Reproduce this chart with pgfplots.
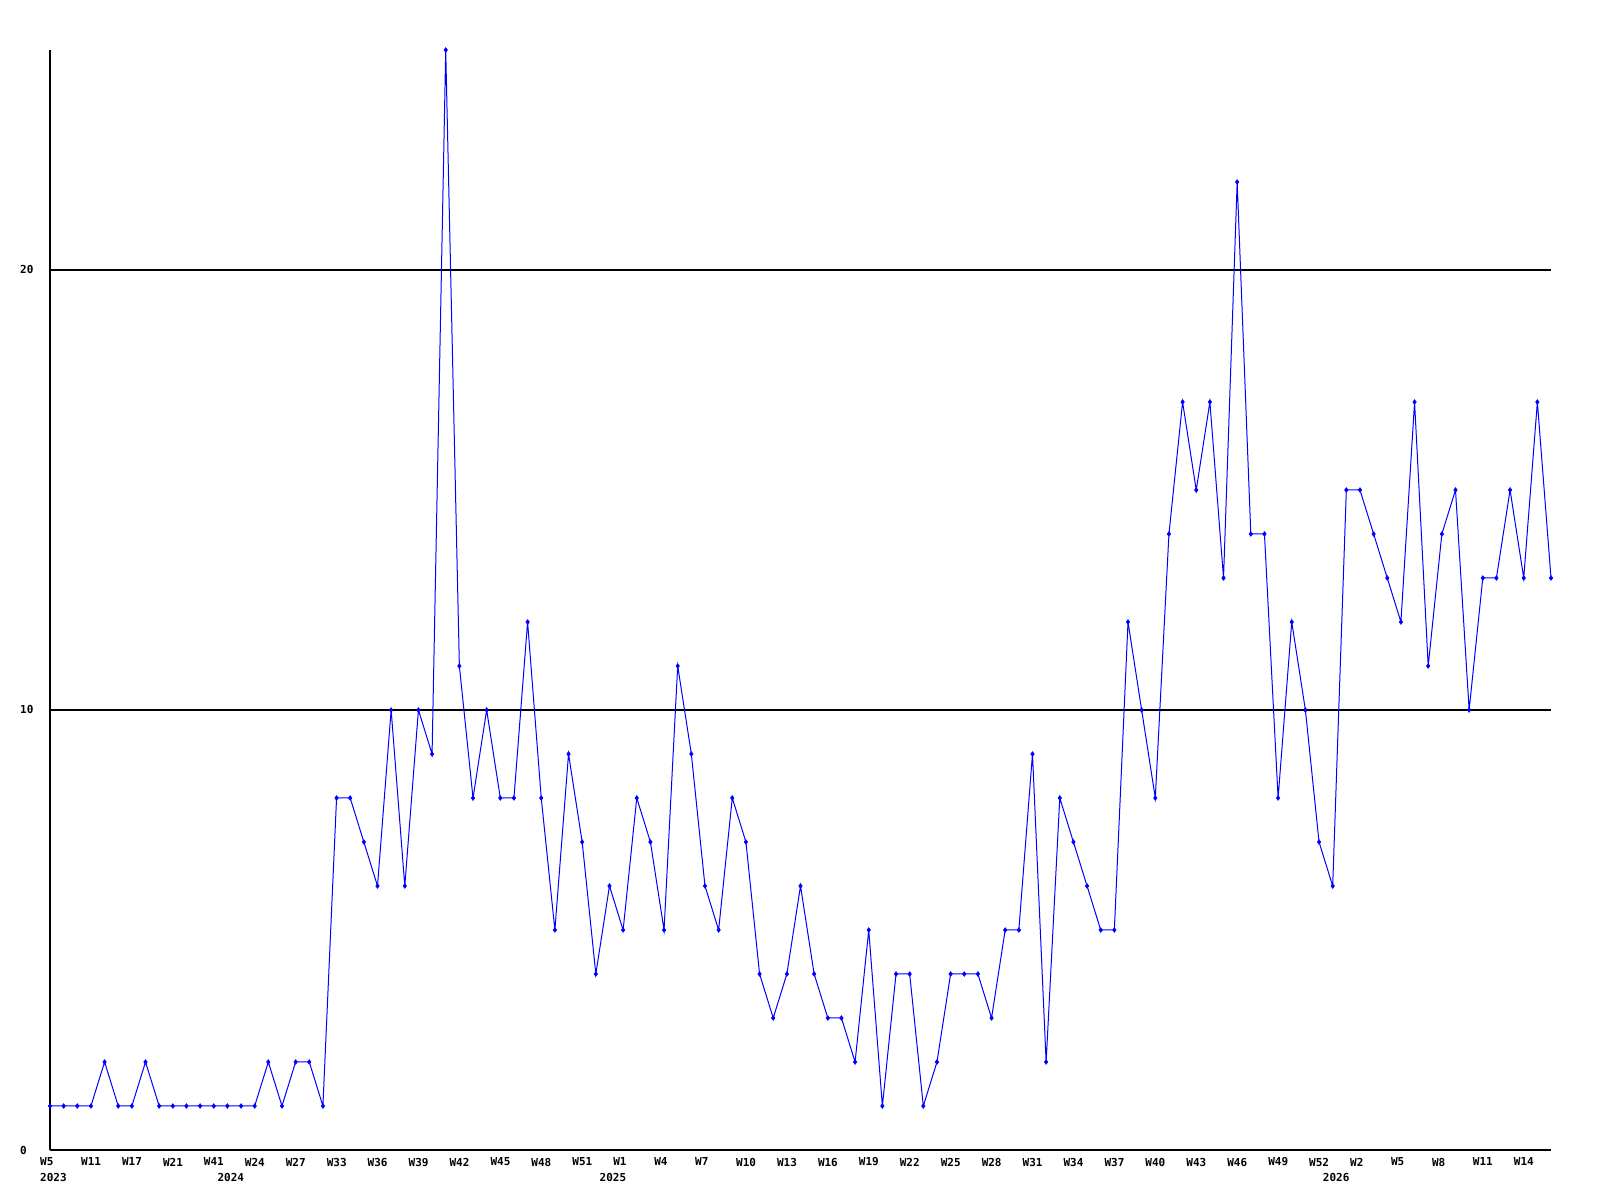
\documentclass[border=0pt]{standalone}
\usepackage{pgfplots}
\pgfplotsset{compat=1.18}
\usepackage{fontspec}
\newfontfamily\lbl{DejaVu Sans Mono}
\begin{document}
\begin{tikzpicture}
\path[use as bounding box] (0,0) rectangle (1600bp,1200bp);
\begin{axis}[
  at={(50bp,50bp)}, anchor=south west,
  x=13.6455bp, y=44bp,
  xmin=0, xmax=110, ymin=0, ymax=25,
  enlargelimits=false,
  clip=false,
  axis x line=bottom, axis y line=left,
  axis line style={-, black, line width=1.2bp},
  major tick length=0pt,
  ytick={0,10,20},
  yticklabels={0,10,20},
  ymajorgrids=true,
  grid style={black, line width=1.2bp},
  xtick={0,3,...,108},
  xticklabels={W5,W11,W17,W21,W41,W24,W27,W33,W36,W39,W42,W45,W48,W51,W1,W4,W7,W10,W13,W16,W19,W22,W25,W28,W31,W34,W37,W40,W43,W46,W49,W52,W2,W5,W8,W11,W14},
  extra x ticks={0,13,41,94},
  extra x tick labels={2023,2024,2025,2026},
  extra x tick style={major tick length=0pt, grid=none,
    xticklabel style={yshift=-15bp}},
  xticklabel style={font=\lbl\bfseries\fontsize{11bp}{12bp}\selectfont, anchor=north west, inner sep=0pt, xshift=-10bp, yshift=-7.7bp},
  yticklabel style={font=\lbl\bfseries\fontsize{11bp}{12bp}\selectfont, anchor=west, inner sep=0pt, xshift=-30bp},
]
\addplot[blue, line width=1bp, mark=diamond*, mark size=2.3bp, mark options={solid, fill=blue, line width=0.6bp}] coordinates {
(0,1)(1,1)(2,1)(3,1)(4,2)(5,1)(6,1)(7,2)(8,1)(9,1)(10,1)(11,1)(12,1)(13,1)(14,1)(15,1)(16,2)(17,1)(18,2)(19,2)(20,1)
(21,8)(22,8)(23,7)(24,6)(25,10)(26,6)(27,10)(28,9)(29,25)(30,11)(31,8)(32,10)(33,8)(34,8)(35,12)(36,8)(37,5)(38,9)(39,7)(40,4)
(41,6)(42,5)(43,8)(44,7)(45,5)(46,11)(47,9)(48,6)(49,5)(50,8)(51,7)(52,4)(53,3)(54,4)(55,6)(56,4)(57,3)(58,3)(59,2)(60,5)
(61,1)(62,4)(63,4)(64,1)(65,2)(66,4)(67,4)(68,4)(69,3)(70,5)(71,5)(72,9)(73,2)(74,8)(75,7)(76,6)(77,5)(78,5)(79,12)(80,10)
(81,8)(82,14)(83,17)(84,15)(85,17)(86,13)(87,22)(88,14)(89,14)(90,8)(91,12)(92,10)(93,7)(94,6)(95,15)(96,15)(97,14)(98,13)(99,12)(100,17)
(101,11)(102,14)(103,15)(104,10)(105,13)(106,13)(107,15)(108,13)(109,17)(110,13)
};
\end{axis}
\end{tikzpicture}
\end{document}
